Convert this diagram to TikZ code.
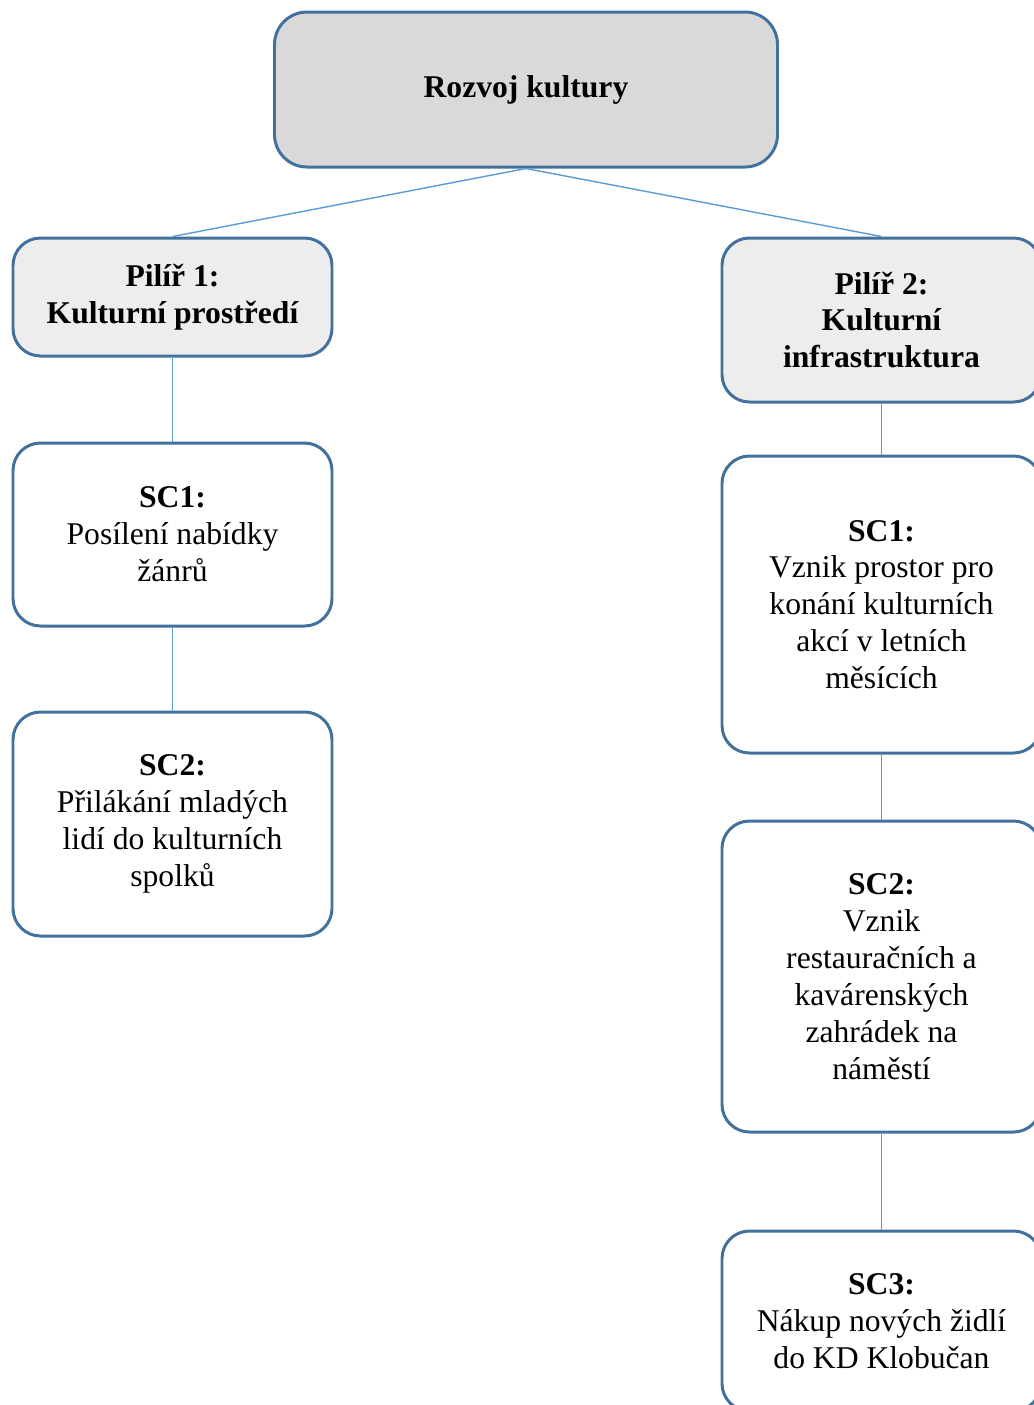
\documentclass[tikz,border=0pt]{standalone}
\usepackage{fontspec}
\setmainfont{Liberation Serif}
\definecolor{boxline}{HTML}{41719C}
\definecolor{linkline}{HTML}{5B9BD5}
\definecolor{topfill}{HTML}{D9D9D9}
\definecolor{pillarfill}{HTML}{EDEDED}
\begin{document}
\begin{tikzpicture}[font=\fontsize{18}{21}\selectfont]
            \tikzstyle{box}=[draw=boxline, line width=1.7pt, rounded corners=0.55cm, align=center, minimum width=6.38cm, fill=white]
            \tikzstyle{pillar}=[box, fill=pillarfill, font=\fontsize{18}{21}\selectfont\bfseries]
            \tikzstyle{link}=[draw=linkline, line width=0.8pt]
            \useasboundingbox (0,0) rectangle (20.68,-28.1);
            \clip (0,0) rectangle (20.68,-28.1);
            \node[box, fill=topfill, minimum width=10.06cm, minimum height=3.1cm, rounded corners=0.65cm, font=\fontsize{18}{21}\selectfont\bfseries] (root) at (10.52,-1.79) {Rozvoj kultury};
            \node[pillar, minimum height=2.36cm] (p1) at (3.45,-5.94) {Pilíř 1:\\Kulturní prostředí};
            \node[pillar, minimum height=3.28cm] (p2) at (17.63,-6.40) {Pilíř 2:\\Kulturní\\infrastruktura};
            \node[box, minimum height=3.66cm] (p1sc1) at (3.45,-10.69) {\textbf{SC1:}\\Posílení nabídky\\žánrů};
            \node[box, minimum height=4.48cm] (p1sc2) at (3.45,-16.48) {\textbf{SC2:}\\Přilákání mladých\\lidí do kulturních\\spolků};
            \node[box, minimum height=5.94cm] (p2sc1) at (17.63,-12.09) {\textbf{SC1:}\\Vznik prostor pro\\konání kulturních\\akcí v letních\\měsících};
            \node[box, minimum height=6.22cm] (p2sc2) at (17.63,-19.53) {\textbf{SC2:}\\Vznik\\restauračních a\\kavárenských\\zahrádek na\\náměstí};
            \node[box, minimum height=3.6cm] (p2sc3) at (17.63,-26.42) {\textbf{SC3:}\\Nákup nových židlí\\do KD Klobučan};
            \path[link] (root.south) -- (p1.north);
            \path[link] (root.south) -- (p2.north);
            \path[link] (p1.south) -- (p1sc1.north);
            \path[link] (p1sc1.south) -- (p1sc2.north);
            \path[link] (p2.south) -- (p2sc1.north);
            \path[link] (p2sc1.south) -- (p2sc2.north);
            \path[link] (p2sc2.south) -- (p2sc3.north);
        \end{tikzpicture}
\end{document}
